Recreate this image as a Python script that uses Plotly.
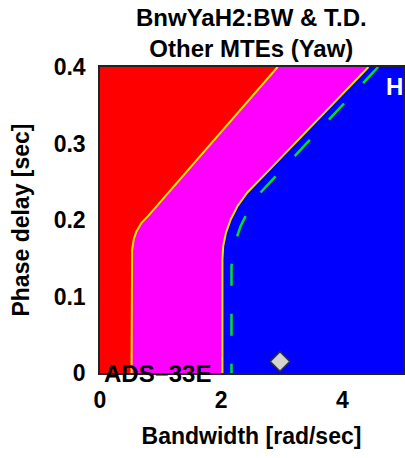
import plotly.graph_objects as go

# ---- data ----
X_RANGE = [0, 5]
Y_RANGE = [0, 0.4]
X_TICKS = [0, 2, 4]
Y_TICKS = [0, 0.1, 0.2, 0.3, 0.4]
Y_TICK_TEXT = ["0", "0.1", "0.2", "0.3", "0.4"]

# Level 2/3 boundary (red | magenta)
L23_BW = [0.52, 0.52, 0.530, 0.557, 0.601, 0.683, 0.792, 2.93]
L23_TD = [0.0, 0.148, 0.161, 0.175, 0.185, 0.196, 0.205, 0.40]

# Level 1/2 boundary (magenta | blue)
L12_BW = [2.02, 2.02, 2.033, 2.077, 2.159, 2.268, 2.432, 2.678, 4.43]
L12_TD = [0.0, 0.148, 0.166, 0.183, 0.201, 0.218, 0.236, 0.256, 0.40]

# green dashed boundary
GRN_BW = [2.17, 2.17, 2.21, 2.32, 2.46, 2.65, 2.90, 4.59]
GRN_TD = [0.0, 0.139, 0.166, 0.192, 0.214, 0.236, 0.258, 0.40]

# data point
PT_BW = [2.97]
PT_TD = [0.015]

TITLE = "BnwYaH2:BW & T.D.<br>Other MTEs (Yaw)"

FONT = "Liberation Sans, Arial, sans-serif"

fig = go.Figure()

def region(bw, td, color):
    xs = list(bw) + [X_RANGE[0], X_RANGE[0]]
    ys = list(td) + [Y_RANGE[1], Y_RANGE[0]]
    fig.add_trace(go.Scatter(x=xs, y=ys, mode="lines", fill="toself",
                             fillcolor=color, line=dict(width=0),
                             hoverinfo="skip", showlegend=False))

region(L12_BW, L12_TD, "#ff00ff")
region(L23_BW, L23_TD, "#ff0000")

for bw, td in [(L23_BW, L23_TD), (L12_BW, L12_TD)]:
    fig.add_trace(go.Scatter(x=bw, y=td, mode="lines",
                             line=dict(color="#ffe800", width=2),
                             showlegend=False, hoverinfo="skip"))

fig.add_trace(go.Scatter(x=GRN_BW[::-1], y=GRN_TD[::-1], mode="lines",
                         line=dict(color="#00e020", width=2.5, dash="22px,28px"),
                         showlegend=False, hoverinfo="skip"))

fig.add_trace(go.Scatter(x=PT_BW, y=PT_TD, mode="markers",
                         marker=dict(symbol="diamond", size=15, color="#d3d3d3",
                                     line=dict(color="#333333", width=1.5)),
                         showlegend=False, cliponaxis=False))

fig.update_layout(
    width=405, height=458,
    margin=dict(l=100, r=0, t=67, b=85),
    paper_bgcolor="white",
    plot_bgcolor="#0000ff",
    font=dict(family=FONT, size=23, color="black", weight="bold"),
    showlegend=False,
    annotations=[
        dict(text=TITLE, xref="paper", yref="paper", x=0.5, y=1.11,
             xanchor="center", yanchor="middle", showarrow=False,
             font=dict(size=24, family=FONT, weight="bold")),
        dict(text="ADS\u221233E", xref="x", yref="y", x=0.04, y=0.0,
             xanchor="left", yanchor="middle", showarrow=False,
             font=dict(size=24, family=FONT, weight="bold", color="black")),
        dict(text="H", xref="x", yref="y", x=4.68, y=0.374,
             xanchor="left", yanchor="middle", showarrow=False,
             font=dict(size=24, family=FONT, weight="bold", color="white")),
    ],
)

fig.update_xaxes(range=X_RANGE, tickvals=X_TICKS, ticks="", showgrid=False,
                 zeroline=False, showline=True, linecolor="#222222", linewidth=1.5,
                 mirror=True, ticklabelstandoff=6,
                 title=dict(text="Bandwidth [rad/sec]", standoff=16,
                            font=dict(size=23, family=FONT, weight="bold")),
                 tickfont=dict(size=23, family=FONT, weight="bold"))
fig.update_yaxes(range=Y_RANGE, tickvals=Y_TICKS, ticktext=Y_TICK_TEXT, ticks="",
                 showgrid=False, zeroline=False, showline=True, linecolor="#222222",
                 linewidth=1.5, mirror=True, ticklabelstandoff=8,
                 title=dict(text="Phase delay [sec]", standoff=18,
                            font=dict(size=23, family=FONT, weight="bold")),
                 tickfont=dict(size=23, family=FONT, weight="bold"))

fig.write_html("out.html")
